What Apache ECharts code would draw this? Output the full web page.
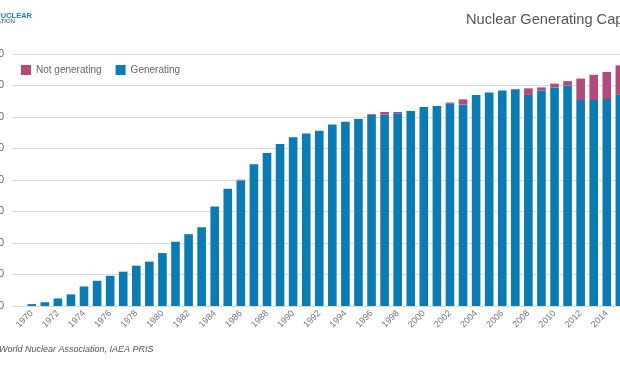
<!DOCTYPE html>
<html><head><meta charset="utf-8">
<script src="https://cdn.jsdelivr.net/npm/echarts@6/dist/echarts.min.js"></script>
<style>html,body{margin:0;padding:0;background:#fff}#c{width:620px;height:365px}</style>
</head><body><div id="c"></div>
<script>
var years = [];
for (var y = 1970; y <= 2015; y++) years.push(String(y));
var generating = [3,6,12,18.5,31,40,48,54.5,64,70.5,84,102,114,125,158,186,199,225,243,257,268,274,278,288,292.5,297,303,304,306,309.5,316,317.5,321,320,335,339,342,344,335,342,347,350,327,327,328.5,336];
var notGenerating = [0,0,0,0,0,0,0,0,0,0,0,0,0,0,0,0,1.5,0,0,0,0,0,0,0,0,0,1.5,4,2,0,0,0,2,8,0,0,0,0,10.5,5,6,7,34,40,43,46];
var yTicks = [0,50,100,150,200,250,300,350,400];

var BLUE = '#0b7cb3', PINK = '#b34a7c';
var chart = echarts.init(document.getElementById('c'), null, {renderer:'canvas'});
chart.setOption({
  animation:false,
  backgroundColor:'#fff',
  title:{text:'Nuclear Generating Capacity (GWe)', left:466, top:12, padding:0,
    textStyle:{fontFamily:'Liberation Sans', fontSize:14.6, fontWeight:'normal', color:'#555'}},
  legend:{data:['Not generating','Generating'], left:21, top:65, padding:0, itemWidth:10, itemHeight:10,
    itemGap:14, icon:'rect',
    textStyle:{fontFamily:'Liberation Sans', fontSize:10, color:'#666'}},
  graphic:[
    {type:'text', x:32, y:12, style:{text:'WORLD NUCLEAR', fill:'#1f7bbf', font:'bold 7.5px Liberation Sans', textAlign:'right', textVerticalAlign:'top'}},
    {type:'text', x:15, y:18.5, style:{text:'ASSOCIATION', fill:'#2a4a70', font:'6px Liberation Sans', textAlign:'right', textVerticalAlign:'top'}},
    {type:'text', left:-1, top:345, style:{text:'World Nuclear Association, IAEA PRIS', fill:'#555', font:'italic 9px Liberation Sans'}}
  ],
  grid:[
    {left:25.2, right:-6.4, top:54, bottom:59, outerBoundsMode:'none', containLabel:false},
    {left:12, right:-2, top:54, bottom:59, outerBoundsMode:'none', containLabel:false}
  ],
  xAxis:[
    {type:'category', gridIndex:0, data:years,
      axisLine:{show:false}, axisTick:{show:false},
      axisLabel:{interval:1, rotate:45, margin:6, fontFamily:'Liberation Sans', fontSize:9, color:'#777'}},
    {type:'value', gridIndex:1, show:false, min:0, max:1}
  ],
  yAxis:[
    {type:'value', gridIndex:0, min:0, max:400, interval:50, show:false},
    {type:'value', gridIndex:1, min:yTicks[0], max:yTicks[yTicks.length-1], interval:50,
      axisLine:{show:false}, axisTick:{show:false},
      splitLine:{lineStyle:{color:'#dcdcdc', width:1}},
      axisLabel:{margin:8, fontFamily:'Liberation Sans', fontSize:10, color:'#666'}}
  ],
  series:[
    {name:'Generating', type:'bar', stack:'cap', xAxisIndex:0, yAxisIndex:0, data:generating,
      barCategoryGap:'34%', itemStyle:{color:BLUE}},
    {name:'Not generating', type:'bar', stack:'cap', xAxisIndex:0, yAxisIndex:0, data:notGenerating,
      itemStyle:{color:PINK}}
  ]
});
</script></body></html>
